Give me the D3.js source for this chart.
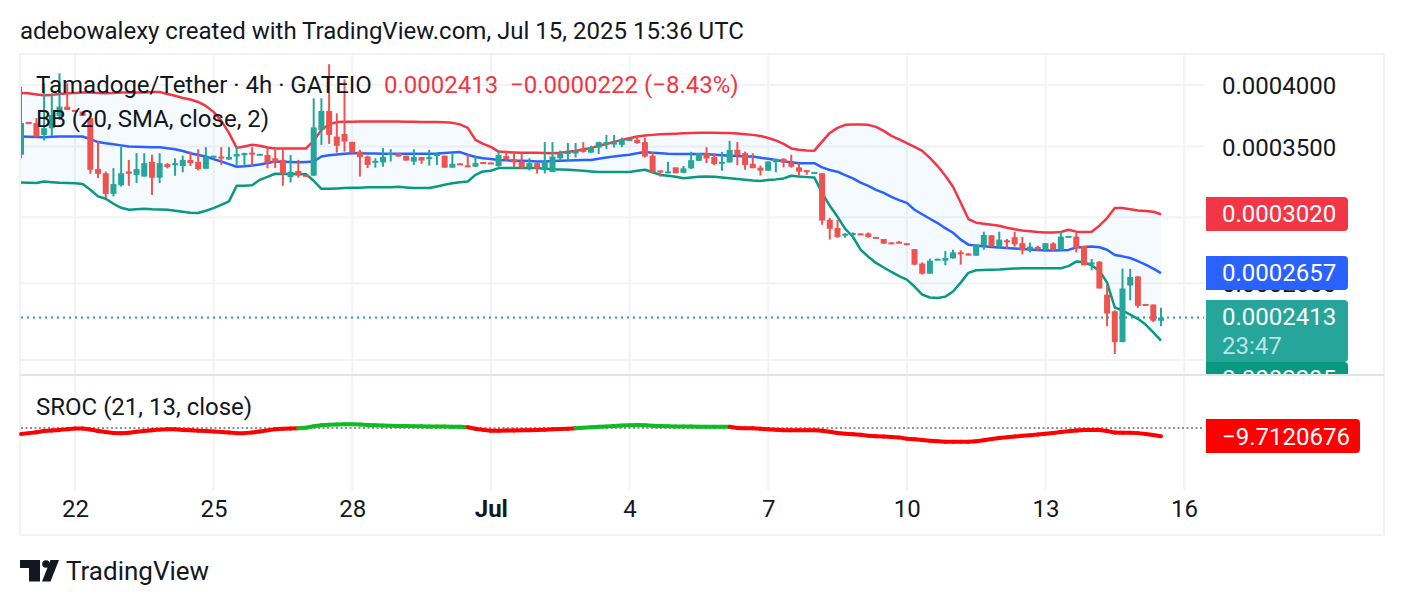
<!DOCTYPE html>
<html><head><meta charset="utf-8">
<script src="https://cdn.jsdelivr.net/npm/d3@7/dist/d3.min.js"></script>
<style>html,body{margin:0;padding:0;background:#fff}svg{display:block}text{font-family:Roboto,sans-serif}</style>
</head><body><div id="chart"></div>
<script>
// Prices in units of 1e-7 USDT, one entry per 4h bar
const opens=[3437,3690,3682,3589,3641,3740,3816,3789,3775,3722,
3332,3302,3157,3217,3315,3290,3278,3385,3270,3368,
3362,3354,3399,3385,3334,3424,3424,3402,3424,3439,
3453,3437,3435,3411,3399,3275,3318,3290,3284,3628,
3781,3576,3596,3535,3461,3424,3380,3380,3437,3449,
3430,3387,3420,3409,3432,3430,3342,3374,3359,3349,
3383,3380,3354,3427,3405,3387,3344,3375,3332,3311,
3411,3442,3453,3479,3453,3491,3515,3519,3512,3550,
3550,3533,3430,3322,3309,3344,3305,3337,3392,3449,
3420,3375,3380,3474,3449,3370,3342,3320,3382,3407,
3382,3344,3324,3305,3302,2984,2931,2887,2891,2897,
2897,2875,2862,2841,2845,2836,2800,2713,2654,2736,
2730,2744,2780,2773,2760,2825,2885,2815,2854,2873,
2836,2796,2813,2792,2834,2794,2875,2877,2819,2707,
2724,2536,2446,2287,2587,2638,2485,2482,2396];
const closes=[3682,3683,3576,3641,3748,3816,3789,3780,3740,3327,
3298,3157,3225,3302,3298,3332,3375,3270,3375,3346,
3375,3399,3375,3332,3424,3430,3417,3420,3442,3449,
3444,3444,3380,3380,3298,3311,3284,3283,3648,3781,
3589,3505,3537,3453,3420,3362,3392,3422,3449,3424,
3394,3420,3394,3420,3442,3342,3370,3367,3349,3375,
3376,3375,3435,3405,3380,3344,3375,3337,3387,3424,
3444,3457,3461,3459,3494,3533,3533,3530,3550,3556,
3526,3424,3311,3313,3315,3302,3337,3397,3449,3409,
3368,3385,3474,3435,3362,3339,3320,3387,3407,3380,
3349,3313,3313,3311,2979,2926,2875,2895,2899,2892,
2875,2870,2833,2836,2840,2831,2707,2654,2730,2742,
2746,2780,2770,2764,2829,2887,2815,2858,2842,2829,
2792,2815,2796,2836,2796,2877,2881,2806,2703,2720,
2570,2434,2287,2570,2635,2475,2480,2396,2413];
const highs=[3985,3690,3722,4015,3929,4103,4015,3789,3775,3740,
3537,3315,3339,3499,3399,3449,3449,3437,3449,3375,
3411,3430,3461,3479,3494,3430,3494,3494,3499,3453,
3494,3444,3487,3494,3491,3435,3399,3290,3886,3886,
4185,3762,4050,3535,3474,3430,3411,3487,3479,3449,
3430,3479,3420,3474,3453,3430,3449,3374,3437,3432,
3383,3380,3468,3468,3461,3449,3411,3375,3533,3533,
3468,3526,3526,3533,3505,3537,3589,3589,3568,3556,
3584,3565,3457,3322,3385,3344,3354,3459,3449,3494,
3449,3459,3543,3533,3461,3449,3357,3387,3407,3411,
3437,3375,3324,3311,3302,2997,2984,2899,2903,2897,
2903,2875,2862,2841,2850,2836,2800,2720,2742,2742,
2788,2796,2792,2776,2829,2908,2885,2908,2862,2908,
2875,2840,2821,2836,2842,2908,2881,2899,2819,2740,
2728,2589,2451,2684,2682,2640,2485,2482,2464];
const lows=[3411,3683,3571,3545,3581,3708,3789,3780,3740,3298,
3268,3128,3140,3208,3213,3232,3278,3150,3232,3337,
3284,3309,3354,3322,3334,3424,3362,3399,3362,3362,
3354,3437,3337,3339,3213,3236,3270,3283,3284,3512,
3519,3453,3461,3453,3278,3339,3342,3349,3387,3424,
3394,3362,3370,3357,3362,3342,3342,3367,3349,3347,
3376,3368,3349,3394,3342,3332,3322,3300,3300,3311,
3394,3394,3417,3453,3453,3444,3481,3491,3494,3550,
3519,3417,3302,3278,3302,3302,3305,3332,3392,3375,
3359,3320,3380,3359,3327,3337,3286,3320,3309,3344,
3342,3286,3290,3305,2952,2858,2869,2869,2873,2892,
2869,2870,2833,2836,2836,2831,2703,2649,2654,2736,
2703,2742,2707,2760,2760,2796,2815,2804,2804,2815,
2768,2780,2792,2792,2788,2792,2875,2780,2703,2674,
2570,2368,2229,2287,2505,2464,2480,2389,2368];
const bbUpper=[3932,3928,3919,3911,3915,3923,3928,3932,3936,3936,
3932,3928,3932,3936,3936,3936,3936,3940,3940,3923,
3907,3889,3876,3855,3822,3773,3700,3605,3489,3500,
3512,3505,3492,3485,3485,3485,3485,3485,3543,3628,
3672,3690,3692,3692,3694,3694,3694,3694,3694,3694,
3692,3692,3690,3690,3690,3688,3684,3672,3644,3550,
3519,3497,3461,3457,3455,3453,3453,3453,3451,3449,
3453,3459,3466,3478,3487,3505,3519,3535,3550,3563,
3577,3585,3589,3593,3596,3598,3601,3604,3605,3606,
3606,3604,3603,3600,3594,3589,3581,3565,3546,3519,
3485,3474,3470,3468,3537,3604,3644,3668,3670,3670,
3668,3652,3620,3581,3554,3526,3497,3466,3414,3354,
3284,3206,3097,2989,2965,2958,2952,2946,2933,2923,
2916,2911,2906,2903,2903,2906,2920,2908,2906,2908,
2946,2995,3061,3061,3053,3045,3041,3037,3020];
const bbBasis=[3576,3574,3572,3571,3574,3576,3576,3576,3576,3556,
3533,3525,3517,3508,3499,3497,3495,3494,3494,3487,
3479,3465,3449,3436,3424,3405,3387,3368,3349,3352,
3357,3365,3376,3387,3385,3383,3382,3384,3387,3424,
3433,3439,3444,3449,3448,3447,3446,3445,3444,3444,
3444,3444,3444,3444,3446,3450,3455,3457,3437,3420,
3411,3405,3399,3396,3393,3392,3390,3388,3387,3390,
3392,3394,3396,3398,3399,3408,3416,3425,3431,3437,
3448,3457,3452,3448,3444,3443,3443,3442,3442,3442,
3438,3434,3430,3427,3425,3424,3415,3407,3399,3387,
3382,3375,3375,3375,3344,3325,3313,3288,3265,3235,
3212,3185,3164,3136,3114,3096,3050,3020,2991,2963,
2930,2901,2858,2827,2821,2817,2813,2810,2807,2804,
2800,2797,2794,2792,2792,2793,2795,2810,2813,2815,
2811,2796,2764,2756,2746,2727,2707,2683,2657];
const bbLower=[3236,3234,3232,3243,3238,3234,3232,3230,3225,3185,
3140,3124,3090,3063,3050,3053,3056,3053,3052,3050,
3043,3037,3030,3028,3043,3061,3083,3106,3213,3214,
3216,3255,3276,3298,3296,3296,3296,3295,3248,3192,
3192,3194,3197,3199,3200,3203,3203,3203,3203,3206,
3201,3197,3197,3197,3208,3220,3230,3238,3243,3290,
3315,3320,3339,3340,3340,3340,3340,3340,3334,3330,
3329,3327,3323,3320,3315,3311,3311,3311,3311,3311,
3320,3327,3309,3290,3284,3276,3266,3271,3276,3278,
3276,3271,3266,3261,3256,3250,3247,3254,3258,3265,
3284,3278,3274,3271,3164,3076,3004,2926,2876,2796,
2754,2717,2690,2664,2640,2620,2581,2536,2520,2518,
2525,2553,2603,2659,2674,2676,2677,2678,2681,2684,
2686,2686,2686,2686,2686,2686,2698,2725,2721,2702,
2672,2603,2466,2450,2428,2406,2376,2336,2295];
const sroc=[-7.0,-6.0,-5.0,-3.5,-2.8,-2.2,-1.5,-0.7,-0.6,-1.8,
-3.5,-4.8,-5.8,-6.2,-5.6,-4.5,-3.5,-2.6,-1.9,-1.5,
-1.6,-2.2,-2.7,-3.1,-3.5,-4.0,-4.7,-5.3,-6.0,-6.0,
-5.2,-4.2,-2.8,-1.4,-0.9,-0.6,-0.4,0.3,2.0,3.2,
3.8,4.1,4.3,4.3,4.0,3.6,3.1,2.8,2.6,2.4,
2.2,2.1,2.0,1.9,1.8,1.7,1.6,1.5,0.8,-0.8,
-2.2,-3.2,-3.2,-3.0,-2.8,-2.7,-2.5,-2.3,-2.0,-1.6,
-1.2,-0.8,-0.3,0.4,0.9,1.4,1.8,2.3,2.8,3.3,
3.5,3.2,2.7,2.3,2.0,1.9,1.8,1.7,1.6,1.6,
1.5,1.5,1.5,-0.05,-0.3,-0.4,-0.9,-1.6,-2.1,-2.5,
-2.6,-2.6,-2.6,-2.6,-3.3,-4.4,-5.8,-6.6,-7.3,-8.0,
-9.0,-9.6,-10.0,-10.4,-11.0,-12.5,-13.1,-14.0,-14.8,-15.5,
-16.0,-16.2,-16.2,-16.2,-15.6,-14.4,-12.8,-11.6,-10.8,-10.0,
-9.2,-8.4,-7.6,-6.8,-5.8,-4.8,-3.8,-2.8,-2.2,-2.2,
-2.3,-3.6,-5.4,-5.5,-5.5,-6.0,-7.0,-8.3,-9.7120676];
const tickBars=[7,25,43,61,79,97,115,133,151];
const tickLabels=["22","25","28","Jul","4","7","10","13","16"];
const priceTicks=[4000,3500,3000,2600,2200];
const lastClose=2413, lastUpper=3020, lastBasis=2657, lastLower=2295, lastSroc=-9.7120676;

const W=1404,H=606,FS=24;
const C={up:"#26a69a",down:"#ef5350",bbU:"#f23645",bbM:"#2962ff",bbL:"#089981",grid:"#f3f3f4",ink:"#131722"};
const svg=d3.select("#chart").append("svg").attr("width",W).attr("height",H).attr("viewBox",`0 0 ${W} ${H}`);
const x=d3.scaleLinear().domain([0,148]).range([21,1161]);
const y=d3.scaleLog().domain([4000,2200]).range([85,360]);
const yS=d3.scaleLinear().domain([0,-9.7120676]).range([428,436.3]);
const fmt=v=>(v*1e-7).toFixed(7);

// frame
const defs=svg.append("defs");
defs.append("clipPath").attr("id","main").append("rect").attr("x",21).attr("y",54).attr("width",1183).attr("height",320);
defs.append("clipPath").attr("id","axisClip").append("rect").attr("x",1205).attr("y",54).attr("width",170).attr("height",320);

svg.append("rect").attr("x",20).attr("y",54).attr("width",1364).attr("height",481).attr("fill","none").attr("stroke",C.grid).attr("stroke-width",2);

// grid
const grid=svg.append("g").attr("stroke",C.grid).attr("stroke-width",2);
grid.selectAll("line.v").data(tickBars).join("line").attr("class","v")
  .attr("x1",d=>x(d)).attr("x2",d=>x(d)).attr("y1",54).attr("y2",490);
grid.selectAll("line.h").data(priceTicks).join("line").attr("class","h")
  .attr("x1",20).attr("x2",1204).attr("y1",d=>y(d)).attr("y2",d=>y(d));

const main=svg.append("g").attr("clip-path","url(#main)");
const bars=d3.range(opens.length);
// bands
main.append("path").datum(bars).attr("fill","#2196f3").attr("fill-opacity",0.05)
  .attr("d",d3.area().x(i=>x(i)).y0(i=>y(bbLower[i])).y1(i=>y(bbUpper[i])));
const lineFor=s=>d3.line().x(i=>x(i)).y(i=>y(s[i]));
[[bbUpper,C.bbU],[bbBasis,C.bbM],[bbLower,C.bbL]].forEach(([s,c])=>{
  main.append("path").datum(bars).attr("fill","none").attr("stroke",c).attr("stroke-width",2.5).attr("stroke-linejoin","round").attr("d",lineFor(s));
});
// last price line
main.append("line").attr("x1",21).attr("x2",1204).attr("y1",y(lastClose)).attr("y2",y(lastClose))
  .attr("stroke",C.up).attr("stroke-width",2).attr("stroke-dasharray","2 4");
// candles
const col=i=>closes[i]>=opens[i]?C.up:C.down;
main.selectAll("line.w").data(bars).join("line").attr("class","w")
  .attr("x1",i=>x(i)).attr("x2",i=>x(i)).attr("y1",i=>y(highs[i])).attr("y2",i=>y(lows[i]))
  .attr("stroke",col).attr("stroke-width",2);
main.selectAll("rect.b").data(bars).join("rect").attr("class","b")
  .attr("x",i=>x(i)-3).attr("width",6)
  .attr("y",i=>y(Math.max(opens[i],closes[i])))
  .attr("height",i=>Math.max(2,Math.abs(y(opens[i])-y(closes[i]))))
  .attr("fill",col);

// price axis
const ax=d3.axisRight(y).tickValues(priceTicks).tickFormat(fmt).tickSize(0).tickPadding(0);
const axG=svg.append("g").attr("transform","translate(1222,1)").call(ax);
axG.select(".domain").remove();
axG.selectAll("text").attr("font-size",FS).attr("fill",C.ink).attr("font-family","Roboto");

// pane separator
svg.append("rect").attr("x",20).attr("y",374).attr("width",1364).attr("height",2).attr("fill","#e0e3eb");

// price labels
const lab=svg.append("g").attr("clip-path","url(#axisClip)");
function priceLabel(top,h,fill,txt,extra){
  lab.append("path").attr("fill",fill)
    .attr("d",`M1206,${top}H1344a4,4 0 0 1 4,4V${top+h-4}a4,4 0 0 1 -4,4H1206Z`);
  lab.append("text").attr("x",1222).attr("y",top+25).attr("font-size",FS).attr("fill","#fff").text(txt);
  if(extra) lab.append("text").attr("x",1222).attr("y",top+54).attr("font-size",FS).attr("fill","#fff").attr("fill-opacity",0.7).text(extra);
}
priceLabel(197,34,C.bbU,fmt(lastUpper));
priceLabel(256,34,C.bbM,fmt(lastBasis));
priceLabel(362,34,C.bbL,fmt(lastLower));
priceLabel(300,62,C.up,fmt(lastClose),"23:47");

// SROC pane
svg.append("line").attr("x1",21).attr("x2",1204).attr("y1",yS(0)).attr("y2",yS(0))
  .attr("stroke","#8f929a").attr("stroke-width",2).attr("stroke-dasharray","2 2.5");
const srocG=svg.append("g").attr("fill","none").attr("stroke-width",4).attr("stroke-linecap","round");
d3.pairs(bars).forEach(([a,b])=>{
  srocG.append("path").attr("stroke",sroc[b]>=0||(sroc[a]>=0&&sroc[b]>-0.01)?"#0fbb1f":"#ff0000")
    .attr("d",d3.line().x(i=>x(i)).y(i=>yS(sroc[i]))([a,b]));
});
svg.append("path").attr("fill","#ff0000").attr("d","M1206,419H1356a4,4 0 0 1 4,4V449a4,4 0 0 1 -4,4H1206Z");
svg.append("text").attr("x",1350).attr("y",445).attr("text-anchor","end").attr("font-size",FS).attr("fill","#fff").text("\u2212"+Math.abs(lastSroc).toFixed(7));

// time axis
const tx=d3.axisBottom(x).tickValues(tickBars).tickFormat((d,i)=>tickLabels[i]).tickSize(0).tickPadding(0);
const txG=svg.append("g").attr("transform","translate(0,500)").call(tx);
txG.select(".domain").remove();
txG.selectAll("text").attr("font-size",FS).attr("fill",C.ink).attr("font-family","Roboto")
  .attr("font-weight",(d,i)=>tickLabels[i]==="Jul"?700:400);

// titles & legend
const T=(xp,yp,s,fill,size)=>svg.append("text").attr("x",xp).attr("y",yp).attr("font-size",size||FS).attr("fill",fill||C.ink).text(s);
T(20,39,"adebowalexy created with TradingView.com, Jul 15, 2025 15:36 UTC");
T(36,93,"Tamadoge/Tether \u00b7 4h \u00b7 GATEIO");
T(384,93,fmt(lastClose),"#f23645");
T(510,93,"\u22120.0000222","#f23645");
T(644,93,"(\u22128.43%)","#f23645");
T(36,127,"BB (20, SMA, close, 2)");
T(36,415,"SROC (21, 13, close)");

// logo
svg.append("path").attr("fill","#131722").attr("d","M20,560H40V581.5H29V568H20Z");
svg.append("circle").attr("cx",46).attr("cy",564).attr("r",3.8).attr("fill","#131722");
svg.append("path").attr("fill","#131722").attr("d","M42,581.5L50.5,560H59L50.5,581.5Z");
T(66,580,"TradingView",C.ink,26);
</script></body></html>
